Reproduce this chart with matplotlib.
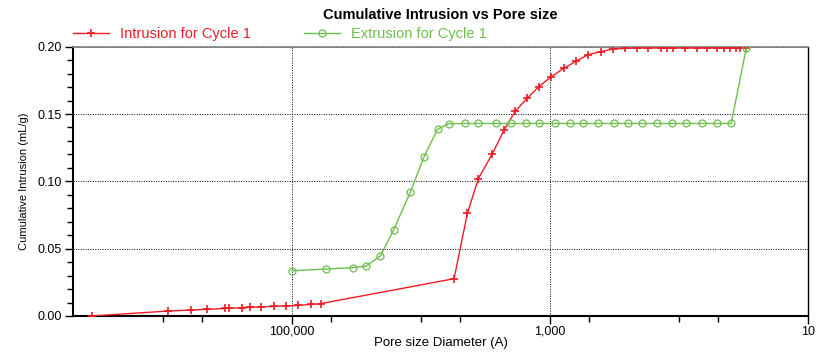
import matplotlib
matplotlib.use('Agg')
import matplotlib.pyplot as plt
from matplotlib.ticker import FixedLocator, NullFormatter, MultipleLocator

plt.rcParams['font.family'] = ['Liberation Sans', 'DejaVu Sans']

# Data: pore size diameter (A) vs cumulative intrusion (mL/g)
intrusion_size = [3.57e6, 9.1e5, 6.05e5, 4.55e5, 3.3e5, 3.06e5, 2.45e5, 2.12e5,
                  1.74e5, 1.38e5, 1.12e5, 8.94e4, 7.08e4, 5.99e4, 5550, 4375,
                  3597, 2800, 2274, 1867, 1508, 1217, 977, 783, 632, 507, 404,
                  325, 264, 213, 173, 138, 124, 111, 89.4, 73, 61, 51, 45, 40.3,
                  36.3, 33.5, 30.4]
intrusion_vol = [0.0, 0.0037, 0.0044, 0.0050, 0.0056, 0.0057, 0.0062, 0.0064,
                 0.0068, 0.0072, 0.0075, 0.0079, 0.0086, 0.0092, 0.0277, 0.0763,
                 0.1020, 0.1205, 0.1381, 0.1519, 0.1617, 0.1704, 0.1778, 0.1839,
                 0.1891, 0.1941, 0.1963, 0.1983, 0.1987, 0.1990, 0.1990, 0.1990,
                 0.1990, 0.1990, 0.1990, 0.1990, 0.1990, 0.1990, 0.1990, 0.1990,
                 0.1990, 0.1990, 0.1990]

extrusion_size = [1.0e5, 5.42e4, 3.38e4, 2.67e4, 2.07e4, 1.63e4, 1.21e4, 9480,
                  7450, 6120, 4560, 3650, 2610, 2020, 1540, 1210, 920, 703, 552,
                  423, 319, 248, 192, 149, 114, 87.7, 66.7, 51.0, 39.4, 30.1]
extrusion_vol = [0.0336, 0.0349, 0.0359, 0.0371, 0.0446, 0.0641, 0.0921, 0.1183,
                 0.1387, 0.1428, 0.1430, 0.1430, 0.1430, 0.1430, 0.1430, 0.1430,
                 0.1430, 0.1430, 0.1430, 0.1430, 0.1430, 0.1430, 0.1430, 0.1430,
                 0.1430, 0.1430, 0.1430, 0.1430, 0.1430, 0.1990]

major_x = [1e5, 1e3, 1e1]
major_x_labels = ['100,000', '1,000', '10']
minor_x = [1e6, 5e5, 5e4, 1e4, 5e3, 500, 100, 50]

red = '#ec1c24'
green = '#6dbf4b'

fig = plt.figure(figsize=(8.27, 3.52), dpi=100)
ax_h = 269.3
ax = fig.add_axes([73 / 827, 1 - 316 / 352, 735 / 827, ax_h / 352])

ax.plot(intrusion_size, intrusion_vol, color=red, lw=1.0, marker='+',
        ms=6, mew=1.2, label='Intrusion for Cycle 1', zorder=3)
ax.plot(extrusion_size, extrusion_vol, color=green, lw=1.0, marker='o',
        ms=5, mfc='none', mew=0.9, label='Extrusion for Cycle 1', zorder=3)

ax.set_xscale('log')
ax.set_xlim(5e6, 10)
ax.set_ylim(0, 0.20)

ax.xaxis.set_major_locator(FixedLocator(major_x))
ax.set_xticklabels(major_x_labels)
ax.xaxis.set_minor_locator(FixedLocator(minor_x))
ax.xaxis.set_minor_formatter(NullFormatter())

ax.yaxis.set_major_locator(MultipleLocator(0.05))
ax.yaxis.set_minor_locator(MultipleLocator(0.01))
ax.set_yticklabels(['%.2f' % v for v in ax.get_yticks()])

ax.tick_params(which='major', length=6, width=1.0, labelsize=9, pad=2)
ax.tick_params(axis='x', which='major', pad=1)
ax.tick_params(which='minor', length=4, width=1.0)
ax.tick_params(axis='y', which='both', right=False)
ax.tick_params(axis='x', which='both', top=False)

ax.grid(True, which='major', color='black', linestyle=(0, (1, 1.5)), lw=0.7)

for side in ['left', 'bottom']:
    ax.spines[side].set_linewidth(1.5)
    ax.spines[side].set_color('black')
ax.spines['right'].set_linewidth(1.0)
ax.spines['right'].set_color('black')
ax.spines['top'].set_linewidth(1.2)
ax.spines['top'].set_color('#808080')

ax.set_xlabel('Pore size Diameter (A)', fontsize=9.5, va='center')
ax.xaxis.set_label_coords(0.5, -27 / ax_h)
ax.set_ylabel('Cumulative Intrusion (mL/g)', fontsize=8, labelpad=6)

ax.text(0.5, 1 + 31.7 / ax_h, 'Cumulative Intrusion vs Pore size',
        transform=ax.transAxes, ha='center', va='center',
        fontsize=10.5, fontweight='bold')

leg = ax.legend(loc='center left', bbox_to_anchor=(0, 1 + 12.7 / ax_h),
                ncol=2, frameon=False, fontsize=10.5, borderpad=0,
                borderaxespad=0, handlelength=2.5, handletextpad=0.75,
                columnspacing=3.6)
for text, col in zip(leg.get_texts(), [red, green]):
    text.set_color(col)

fig.savefig('out.png', dpi=100)
